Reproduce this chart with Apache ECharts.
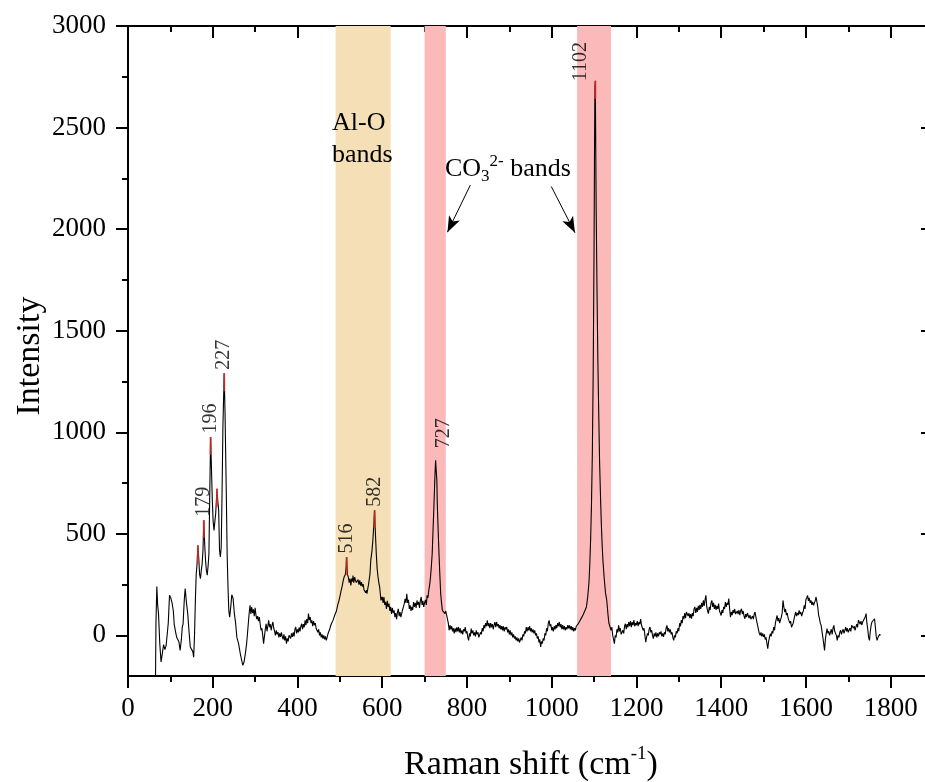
<!DOCTYPE html>
<html><head><meta charset="utf-8">
<script src="https://cdn.jsdelivr.net/npm/echarts@6/dist/echarts.min.js"></script>
<style>html,body{margin:0;padding:0;background:#fff}#c{width:925px;height:782px}</style>
</head><body><div id="c"></div>
<script>
// ---- data ----
const xMajorTicks = [0,200,400,600,800,1000,1200,1400,1600,1800];
const xMinorTicks = [100,300,500,700,900,1100,1300,1500,1700,1900];
const yMajorTicks = [0,500,1000,1500,2000,2500,3000];
const yMinorTicks = [250,750,1250,1750,2250,2750];
const spectrum = [
[65,-200],[66,60],[68,241],[70,150],[72,107],[75,-40],[78,-131],[81,-90],[84,-45],[87,-70],[90,-50],[92,-57],[95,60],[98,197],[101,185],[104,160],[107,120],[109,57],[112,20],[115,-10],[117,-8],[120,-30],[123,-74],[126,-20],[128,40],[130,57],[133,180],[135,230],[138,160],[141,107],[144,20],[147,-57],[150,-50],[153,-80],[155,-107],[157,0],[159,172],[161,300],[163,353],[165,443],[167,380],[169,300],[171,279],[173,320],[175,353],[177,420],[179,567],[181,450],[183,369],[185,320],[187,296],[189,340],[191,402],[193,700],[195,977],[197,820],[199,665],[201,560],[203,517],[205,560],[207,600],[210,722],[212,660],[214,616],[216,420],[218,386],[220,435],[222,700],[224,1026],[226,1200],[227,1290],[229,1100],[232,700],[234,400],[236,238],[238,120],[240,90],[243,150],[245,200],[248,182],[251,108],[254,60],[257,-10],[261,-41],[265,-90],[268,-120],[271,-148],[274,-130],[277,-90],[280,-40],
[282,8],[284,60],[286,110],[288,148],[290,105],[292,139],[294,110],[296,128],[298,95],[300,136],[302,100],[304,80],[306,95],[308,70],[310,90],[312,55],[314,25],[316,35],[318,0],[320,-41],[322,-5],[324,30],[326,57],[328,20],[330,45],[332,74],[334,40],[336,55],[338,25],[340,50],[342,66],[344,35],[346,20],[348,0],[350,25],[352,5],[354,16],[356,-10],[358,10],[360,-8],[362,15],[364,-5],[366,-20],[368,5],[370,-25],[372,-5],[374,-41],[376,-15],[378,-30],[380,0],[382,8],[384,-15],[386,10],[388,-8],[390,15],[392,-5],[394,30],[396,41],[398,10],[400,30],[402,15],[404,40],[406,20],[408,45],[410,57],[412,30],[414,55],[416,40],[418,74],[420,50],[422,80],[424,60],[426,107],[428,75],[430,90],[432,60],[434,74],[436,45],[438,70],[440,50],[442,60],[444,35],[446,41],[448,15],[450,30],[452,0],[454,15],[456,-10],[458,5],[460,-16],[462,0],[464,-20],[466,-5],[468,-25],[470,-10],[472,8],[474,15],[476,30],[478,45],[480,57],[482,50],[484,75],[486,80],[488,100],[490,110],
[492,120],[495,150],[497,164],[500,190],[503,220],[505,238],[508,270],[510,287],[513,300],[515,340],[516,386],[518,300],[520,287],[522,260],[524,280],[526,246],[528,280],[530,265],[531,295],[533,260],[535,287],[537,270],[539,260],[541,254],[543,275],[545,250],[547,271],[549,245],[551,262],[553,240],[555,252],[557,225],[559,230],[561,210],[563,222],[564,205],[566,230],[568,254],[571,300],[573,369],[576,420],[578,468],[580,540],[582,616],[584,500],[586,403],[588,330],[590,290],[592,260],[594,238],[597,172],
[600,190],[602,160],[604,189],[606,150],[608,165],[610,130],[612,170],[614,140],[616,156],[618,120],[620,140],[622,105],[624,135],[626,110],[628,123],[630,90],[632,110],[634,80],[636,115],[638,131],[640,95],[642,115],[644,90],[646,107],[648,125],[650,140],[652,156],[654,180],[656,160],[658,205],[660,160],[662,175],[664,130],[666,148],[668,120],[670,140],[672,125],[674,164],[676,140],[678,160],[680,135],[682,172],[684,150],[686,165],[688,135],[690,170],[692,189],[694,150],[696,170],[698,140],[700,160],[702,175],[704,150],[706,197],[708,185],[710,222],[712,250],[714,287],[716,340],[718,403],[720,520],[722,632],[724,760],[726,862],[727,870],[729,760],[730,649],[732,520],[734,403],[736,300],[738,205],[740,160],[742,123],[745,115],[748,107],
[750,120],[752,115],[754,80],[756,60],[758,25],[760,50],[762,30],[764,45],[766,20],[768,35],[770,10],[772,35],[774,16],[776,40],[778,20],[780,41],[782,15],[784,35],[786,10],[788,25],[790,5],[792,30],[794,20],[796,41],[798,10],[800,20],[802,-10],[804,-25],[806,10],[808,-5],[810,33],[812,10],[814,25],[816,0],[818,15],[820,-5],[822,25],[824,5],[826,15],[828,-10],[830,-8],[832,15],[834,5],[836,35],[838,20],[840,50],[842,35],[844,60],[846,45],[848,74],[850,45],[852,60],[854,35],[856,60],[858,40],[860,55],[862,30],[864,50],[866,65],[868,40],[870,66],[872,45],[874,55],[876,35],[878,50],[880,30],[882,45],[884,25],[886,45],[888,20],[890,40],[892,30],[894,41],[896,15],[898,30],[900,5],[902,25],[904,0],[906,15],[908,-10],[910,5],[912,-15],[914,-5],[916,-25],[918,-10],[920,-30],[922,-15],[924,-35],[926,-41],[928,-10],[930,-25],[932,5],[934,-5],[936,20],[938,10],[940,41],[942,20],[944,40],[946,25],[948,45],[950,20],[952,35],[954,15],[956,30],[958,10],[960,25],[962,0],[964,10],[966,-15],[968,-5],[970,-35],[972,-20],[974,-57],[976,-30],[978,-40],[980,-15],[982,-25],[984,10],[986,0],[988,35],[990,20],[992,60],[994,74],[996,45],[998,55],[1000,25],[1002,40],[1004,20],[1006,45],[1008,30],[1010,50],[1012,35],[1014,60],[1016,45],[1018,66],[1020,40],[1022,55],[1024,30],[1026,50],[1028,30],[1030,45],[1032,25],[1034,40],[1036,30],[1038,50],[1040,35],[1042,49],[1044,30],[1046,45],[1048,25],[1050,41],[1052,20],[1054,35],[1056,25],[1058,45],[1060,41],[1062,55],[1064,50],[1066,70],[1068,65],[1070,85],[1072,80],[1074,100],[1076,95],[1078,120],[1080,115],[1082,140],
[1085,189],[1088,260],[1090,353],[1092,480],[1094,650],[1096,900],[1098,1300],[1100,1900],[1101,2350],[1102,2700],[1103,2730],[1104,2400],[1105,2100],[1107,1700],[1109,1350],[1111,1100],[1113,862],[1115,700],[1117,560],[1119,450],[1121,369],[1124,280],[1127,210],[1130,172],[1133,100],[1135,60],[1138,40],
[1140,25],[1142,40],[1144,0],[1146,-20],[1148,-41],[1150,0],[1152,-10],[1154,30],[1156,15],[1158,49],[1160,20],[1162,35],[1164,5],[1166,0],[1168,25],[1170,10],[1172,45],[1174,57],[1176,30],[1178,55],[1180,40],[1182,66],[1184,45],[1186,70],[1188,40],[1190,65],[1192,50],[1194,75],[1196,45],[1198,60],[1200,50],[1202,70],[1204,45],[1206,65],[1208,55],[1210,80],[1212,50],[1214,55],[1216,25],[1218,35],[1220,0],[1222,-33],[1224,-10],[1226,10],[1228,0],[1230,30],[1232,41],[1234,15],[1236,25],[1238,0],[1240,-16],[1242,10],[1244,-5],[1246,15],[1248,-10],[1250,10],[1252,-5],[1254,15],[1256,5],[1258,20],[1260,-5],[1262,10],[1264,-8],[1266,15],[1268,5],[1270,35],[1272,49],[1274,20],[1276,35],[1278,15],[1280,30],[1282,5],[1284,15],[1286,-10],[1288,-25],[1290,0],[1292,-10],[1294,20],[1296,10],[1298,35],[1300,20],[1302,60],[1304,45],[1306,75],[1308,60],[1310,95],[1312,80],[1314,110],[1316,85],[1318,115],[1320,123],[1322,95],[1324,110],[1326,85],[1328,105],[1330,82],[1332,110],[1334,95],[1336,130],[1338,140],[1340,110],[1342,135],[1344,115],[1346,145],[1348,125],[1350,150],[1352,130],[1354,160],[1356,140],[1358,172],[1360,145],[1362,175],[1364,197],[1366,140],[1368,120],[1370,107],[1372,140],[1374,125],[1376,160],[1378,172],[1380,140],[1382,160],[1384,130],[1386,150],[1388,125],[1390,145],[1392,130],[1394,156],[1396,120],[1398,110],[1400,98],[1402,125],[1404,110],[1406,140],[1408,130],[1410,164],[1412,140],[1414,160],[1416,150],[1418,181],[1420,130],[1422,90],[1424,115],[1426,100],[1428,125],[1430,110],[1432,130],[1434,105],[1436,98],[1438,120],[1440,105],[1442,125],[1444,100],[1446,120],[1448,131],[1450,105],[1452,120],[1454,95],[1456,82],[1458,105],[1460,90],[1462,110],[1464,107],[1466,85],[1468,100],[1470,80],[1472,74],[1474,95],[1476,80],[1478,105],[1480,115],[1482,90],[1484,85],[1486,49],[1488,40],[1490,10],[1492,0],[1494,15],[1496,-5],[1498,10],[1500,-8],[1502,5],[1504,-20],[1506,-10],[1508,-40],[1510,-66],[1512,-30],[1514,-10],[1516,8],[1518,-5],[1520,20],[1522,10],[1524,41],[1526,25],[1528,60],[1530,80],[1532,98],[1534,70],[1536,85],[1538,60],[1540,66],[1542,90],[1544,110],[1546,172],[1548,140],[1550,115],[1552,130],[1554,100],[1556,110],[1558,85],[1560,82],[1562,60],[1564,70],[1566,40],[1568,33],[1570,60],[1572,80],[1574,100],[1576,115],[1578,95],[1580,110],[1582,100],[1584,123],[1586,105],[1588,115],[1590,95],[1592,110],[1594,120],[1596,148],[1598,130],[1600,175],[1602,185],[1604,197],[1606,170],[1608,185],[1610,160],[1612,172],[1614,150],[1616,165],[1618,148],[1620,160],[1622,170],[1624,189],[1626,165],[1628,140],[1630,100],[1632,82],[1634,60],[1636,49],[1638,20],[1640,-10],[1642,-40],[1644,-74],[1646,-20],[1648,10],[1650,33],[1652,10],[1654,20],[1656,0],[1658,16],[1660,30],[1662,5],[1664,35],[1666,49],[1668,20],[1670,10],[1672,0],[1674,-25],[1676,0],[1678,-10],[1680,15],[1682,25],[1684,5],[1686,20],[1688,30],[1690,10],[1692,25],[1694,41],[1696,20],[1698,35],[1700,15],[1702,16],[1704,35],[1706,20],[1708,50],[1710,57],[1712,35],[1714,45],[1716,25],[1718,41],[1720,55],[1722,40],[1724,75],[1726,82],[1728,55],[1730,70],[1732,50],[1734,66],[1736,75],[1738,60],[1740,90],[1742,107],[1744,60],[1746,30],[1748,-10],[1750,-25],[1752,20],[1754,50],[1756,66],[1758,60],[1760,75],[1762,82],[1764,40],[1766,-5],[1768,-25],[1770,-10],[1772,-5],[1774,5],[1776,0]
];
const peakMarks = [[165,443],[179,567],[195,977],[210,722],[227,1290],[516,386],[582,616],[1103,2730]];
const peakLabelText = ['179','196','227','516','582','727','1102'];
const peakLabelPos = [[179,567],[195,977],[227,1290],[516,386],[582,616],[727,870],[1103,2730]];
const alOBand = [490,620];
const co3Bands = [[700,750],[1060,1140]];
const arrowLines = [[[808,2217],[754,1985]],[[999,2210],[1055,1982]]];

// ---- chart ----
const FONT = "'Liberation Serif','Times New Roman',serif";
const chart = echarts.init(document.getElementById('c'));
function xAx(pos, ticks, len, showLine, labels){
  return {type:'value', min:0, max:1900, position:pos, gridIndex:0,
    axisLine:{show:showLine, onZero:false, lineStyle:{color:'#000', width:2}},
    axisTick:{show:true, customValues:ticks, length:len, inside:pos==='top', lineStyle:{color:'#000', width:2}},
    axisLabel:{show:labels, customValues:ticks, fontSize:27, fontFamily:FONT, color:'#000', margin:19, formatter:v=>String(v)},
    splitLine:{show:false}};
}
function yAx(pos, ticks, len, showLine, labels){
  return {type:'value', min:-200, max:3000, position:pos, gridIndex:0,
    axisLine:{show:showLine, onZero:false, lineStyle:{color:'#000', width:2}},
    axisTick:{show:true, customValues:ticks, length:len, inside:pos==='right', lineStyle:{color:'#000', width:2}},
    axisLabel:{show:labels, customValues:ticks, fontSize:27, fontFamily:FONT, color:'#000', margin:22, formatter:v=>String(v)},
    splitLine:{show:false}};
}
const option = {
  animation:false,
  backgroundColor:'#fff',
  grid:{left:128, top:26, right:-8, bottom:106, outerBoundsMode:'none', containLabel:false},
  xAxis:[xAx('bottom',xMajorTicks,12,true,true), xAx('bottom',xMinorTicks,6,false,false),
         xAx('top',xMajorTicks,12,true,false), xAx('top',xMinorTicks,6,false,false)],
  yAxis:[yAx('left',yMajorTicks,12,true,true), yAx('left',yMinorTicks,6,false,false),
         yAx('right',yMajorTicks,12,true,false), yAx('right',yMinorTicks,6,false,false)],
  series:[
    {type:'line', data:[], z:1, silent:true,
     markArea:{silent:true, data:[
       [{xAxis:alOBand[0], itemStyle:{color:'#F5DFB6'}},{xAxis:alOBand[1]}],
       [{xAxis:co3Bands[0][0], itemStyle:{color:'#FBB9BA'}},{xAxis:co3Bands[0][1]}],
       [{xAxis:co3Bands[1][0], itemStyle:{color:'#FBB9BA'}},{xAxis:co3Bands[1][1]}]
     ]}},
    {type:'line', data:spectrum, z:3, showSymbol:false, symbol:'none', silent:true,
     lineStyle:{color:'#000', width:1.1},
     markLine:{silent:true, symbol:['none','arrow'], symbolSize:[9,16], label:{show:false},
       lineStyle:{color:'#000', width:1, type:'solid'},
       data:arrowLines.map(a=>[{coord:a[0]},{coord:a[1]}])}},
    {type:'scatter', data:peakMarks, z:4, silent:true, symbol:'rect', symbolSize:[2,18], symbolOffset:[0,9],
     itemStyle:{color:'#E0352B'}},
    {type:'scatter', z:5, silent:true, symbolSize:1, itemStyle:{color:'transparent'},
     data:peakLabelPos.map((p,i)=>{
       const d = {name:peakLabelText[i], value:p};
       if (peakLabelText[i]==='727') d.label = {offset:[7,8]};
       if (peakLabelText[i]==='1102') d.label = {offset:[-4,-15]};
       return d;}),
     label:{show:true, formatter:'{b}', position:'top', distance:3, rotate:90, align:'left', verticalAlign:'middle',
       fontSize:20, fontFamily:FONT, color:'#000'}}
  ],
  graphic:[
    {type:'text', z:100, x:531, y:765, style:{text:'{m|Raman shift (cm}{s|-1}{m|)}', align:'center', verticalAlign:'middle',
      rich:{m:{fontSize:34, fontFamily:FONT, fill:'#000', lineHeight:40}, s:{fontSize:19, fontFamily:FONT, fill:'#000', lineHeight:24, verticalAlign:'top'}}}},
    {type:'text', z:100, x:30, y:356, rotation:Math.PI/2, style:{text:'Intensity', align:'center', verticalAlign:'middle', fontSize:34, fontFamily:FONT, fill:'#000'}},
    {type:'text', z:100, x:332, y:123, style:{text:'Al-O', align:'left', verticalAlign:'middle', fontSize:26, fontFamily:FONT, fill:'#000'}},
    {type:'text', z:100, x:332, y:155, style:{text:'bands', align:'left', verticalAlign:'middle', fontSize:26, fontFamily:FONT, fill:'#000'}},
    {type:'text', z:100, x:445, y:169.5, style:{text:'{m|CO}{b|3}{t|2-}{m| bands}', align:'left', verticalAlign:'middle',
      rich:{m:{fontSize:26, fontFamily:FONT, fill:'#000', lineHeight:32}, b:{fontSize:17, fontFamily:FONT, fill:'#000', lineHeight:14, verticalAlign:'bottom'}, t:{fontSize:17, fontFamily:FONT, fill:'#000', lineHeight:18, verticalAlign:'top'}}}}
  ]
};
chart.setOption(option);
</script></body></html>
